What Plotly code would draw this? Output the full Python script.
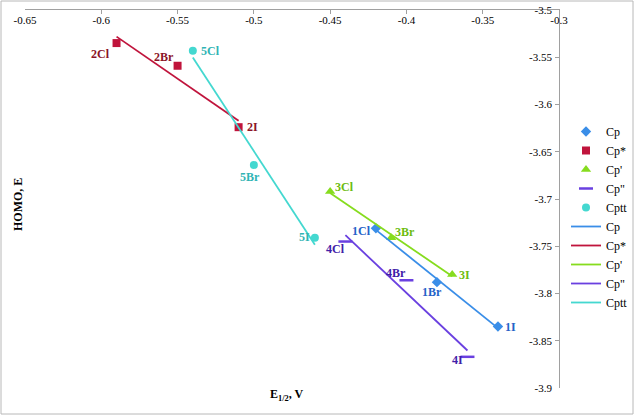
import numpy as np
import plotly.graph_objects as go

# ---- data ----
series_names = ["Cp", "Cp*", "Cp'", "Cp\"", "Cptt"]
cp_x = [-0.42, -0.38, -0.34]
cp_y = [-3.731, -3.788, -3.835]
cp_lab = ["1Cl", "1Br", "1I"]
cps_x = [-0.59, -0.55, -0.51]
cps_y = [-3.535, -3.559, -3.624]
cps_lab = ["2Cl", "2Br", "2I"]
cpp_x = [-0.45, -0.41, -0.37]
cpp_y = [-3.692, -3.741, -3.780]
cpp_lab = ["3Cl", "3Br", "3I"]
cppp_x = [-0.44, -0.40, -0.36]
cppp_y = [-3.745, -3.786, -3.867]
cppp_lab = ["4Cl", "4Br", "4I"]
cptt_x = [-0.54, -0.50, -0.46]
cptt_y = [-3.543, -3.664, -3.741]
cptt_lab = ["5Cl", "5Br", "5I"]

x_ticks = [-0.65, -0.6, -0.55, -0.5, -0.45, -0.4, -0.35, -0.3]
x_ticktext = ["-0.65", "-0.6", "-0.55", "-0.5", "-0.45", "-0.4", "-0.35", "-0.3"]
y_ticks = [-3.5, -3.55, -3.6, -3.65, -3.7, -3.75, -3.8, -3.85, -3.9]
y_ticktext = ["-3.5", "-3.55", "-3.6", "-3.65", "-3.7", "-3.75", "-3.8", "-3.85", "-3.9"]

FONT = "Liberation Serif"

# styles; label offsets in pixels (dx right, dy down)
styles = [
    dict(x=cp_x, y=cp_y, lab=cp_lab, color="#3A8EE8", lcolor="#2462C8", symbol="diamond", size=8,
         off=[(-14, 3), (-5, 10), (13, 0)]),
    dict(x=cps_x, y=cps_y, lab=cps_lab, color="#C0143C", lcolor="#8B1428", symbol="square", size=8,
         off=[(-16, 11), (-14, -9), (14, 0)]),
    dict(x=cpp_x, y=cpp_y, lab=cpp_lab, color="#86DC1E", lcolor="#6CBC10", symbol="triangle-up", size=9,
         off=[(14, -4), (14, -6), (12, 0)]),
    dict(x=cppp_x, y=cppp_y, lab=cppp_lab, color="#6A40E0", lcolor="#4020A8", symbol="line-ew", size=10,
         off=[(-10, 7), (-10, -7), (-10, 3)]),
    dict(x=cptt_x, y=cptt_y, lab=cptt_lab, color="#44D8D0", lcolor="#30B4B4", symbol="circle", size=8,
         off=[(18, 0), (-4, 12), (-10, -1)]),
]

fig = go.Figure()

# marker traces
for name, s in zip(series_names, styles):
    if s["symbol"] == "line-ew":
        marker = dict(symbol="line-ew", size=s["size"], line=dict(color=s["color"], width=2.5), color=s["color"])
    else:
        marker = dict(symbol=s["symbol"], size=s["size"], color=s["color"])
    fig.add_trace(go.Scatter(x=s["x"], y=s["y"], mode="markers", name=name, marker=marker))

# trendline traces (linear regression from the data)
for name, s in zip(series_names, styles):
    k, b = np.polyfit(s["x"], s["y"], 1)
    xs = np.array([min(s["x"]), max(s["x"])])
    fig.add_trace(go.Scatter(x=xs, y=k * xs + b, mode="lines", name=name,
                             line=dict(color=s["color"], width=1.8)))

# helper trace on overlay axes so they are drawn
fig.add_trace(go.Scatter(x=[x_ticks[0]], y=[y_ticks[0]], xaxis="x2", yaxis="y2", mode="markers",
                         marker=dict(opacity=0), showlegend=False, hoverinfo="skip"))

# data labels
annotations = []
for s in styles:
    for xv, yv, t, (dx, dy) in zip(s["x"], s["y"], s["lab"], s["off"]):
        annotations.append(dict(x=xv, y=yv, xref="x", yref="y", text=t, showarrow=False,
                                xshift=dx, yshift=-dy, xanchor="center", yanchor="middle",
                                font=dict(family=FONT, size=12, color=s["lcolor"], weight="bold")))

W, H = 634, 415
L, R, T, B = 25, 75, 10, 27
pw, ph = W - L - R, H - T - B

def px(xp):
    return (xp - L) / pw

def py(yp):
    return 1 - (yp - T) / ph

annotations += [
    dict(text="<b>HOMO, E</b>", xref="paper", yref="paper", x=px(18), y=py(205),
         xanchor="center", yanchor="middle",
         textangle=-90, showarrow=False, font=dict(family=FONT, size=12)),
    dict(text="<b>E<sub>1/2</sub>, V</b>", xref="paper", yref="paper", x=px(287), y=py(395),
         xanchor="center", yanchor="middle",
         showarrow=False, font=dict(family=FONT, size=12)),
]

axcommon = dict(showgrid=False, zeroline=False)

fig.update_layout(
    width=W, height=H,
    margin=dict(l=L, r=R, t=T, b=B, autoexpand=False),
    paper_bgcolor="white", plot_bgcolor="white",
    font=dict(family=FONT, size=11, color="black"),
    showlegend=True,
    legend=dict(x=px(566), y=py(117), xanchor="left", yanchor="top",
                font=dict(family=FONT, size=12), itemwidth=30,
                bgcolor="rgba(0,0,0,0)", tracegroupgap=0),
    xaxis=dict(range=[-0.65, -0.3], side="top", tickvals=x_ticks, showticklabels=False,
               ticks="inside", ticklen=4, tickcolor="#A0A0A0",
               showline=True, linecolor="#A0A0A0", linewidth=1, **axcommon),
    yaxis=dict(range=[-3.9, -3.5], side="right", tickvals=y_ticks, showticklabels=False,
               ticks="inside", ticklen=4, tickcolor="#A0A0A0",
               showline=True, linecolor="#A0A0A0", linewidth=1, **axcommon),
    xaxis2=dict(range=[-0.65, -0.3], overlaying="x", side="bottom", anchor="free", position=1.0,
                tickvals=x_ticks, ticktext=x_ticktext, ticks="", showline=False, ticklabelstandoff=2,
                tickfont=dict(family=FONT, size=11), **axcommon),
    yaxis2=dict(range=[-3.9, -3.5], overlaying="y", side="left", anchor="free", position=1.0,
                tickvals=y_ticks, ticktext=y_ticktext, ticks="", showline=False, ticklabelstandoff=7,
                tickfont=dict(family=FONT, size=11), **axcommon),
    shapes=[dict(type="rect", xref="paper", yref="paper",
                 x0=px(1), x1=px(W - 1), y0=py(H - 1), y1=py(1),
                 line=dict(color="#B8B8B8", width=1), fillcolor="rgba(0,0,0,0)", layer="below")],
    annotations=annotations,
)

fig.write_html("out.html")
